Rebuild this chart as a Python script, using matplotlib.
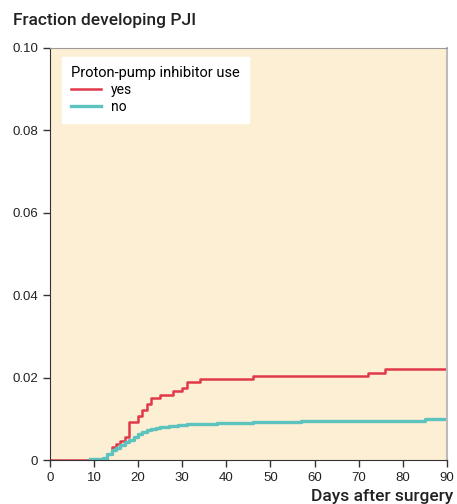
import matplotlib
matplotlib.use('Agg')
import matplotlib.pyplot as plt

plt.rcParams['font.family'] = ['Liberation Sans', 'DejaVu Sans']

# step points (day, cumulative fraction)
ppi_days = [0, 13, 14, 15, 16, 17, 18, 20, 21, 22, 23, 25, 28, 30, 31, 34, 46, 72, 76, 90]
ppi_frac = [0, 0.0015, 0.0031, 0.0039, 0.0047, 0.0055, 0.0092, 0.0107, 0.0122, 0.0137,
            0.0151, 0.0159, 0.0167, 0.0176, 0.0190, 0.0197, 0.0204, 0.0212, 0.0220, 0.0220]

no_days = [9, 12, 13, 14, 15, 16, 17, 18, 19, 20, 21, 22, 23, 24, 25, 27, 29, 31, 35, 38,
           44, 46, 57, 85, 90]
no_frac = [0.0003, 0.0005, 0.0015, 0.0025, 0.0030, 0.0037, 0.0045, 0.0050, 0.0057, 0.0063,
           0.0068, 0.0072, 0.0075, 0.0078, 0.0080, 0.0083, 0.0085, 0.0087, 0.0088, 0.0089,
           0.0090, 0.0093, 0.0096, 0.0099, 0.0099]

x_ticks = [0, 10, 20, 30, 40, 50, 60, 70, 80, 90]
y_ticks = [0, 0.02, 0.04, 0.06, 0.08, 0.10]
y_labels = ['0', '0.02', '0.04', '0.06', '0.08', '0.10']

fig = plt.figure(figsize=(4.57, 5.04), dpi=100)
ax = fig.add_axes([0.109, 0.087, 0.869, 0.818])
ax.set_facecolor('#fdefd3')

ax.step(ppi_days, ppi_frac, where='post', color='#e0394a', lw=1.8, label='yes')
ax.step(no_days, no_frac, where='post', color='#5cc3be', lw=2.4, label='no')

ax.set_xlim(0, 90)
ax.set_ylim(0, 0.10)
ax.set_xticks(x_ticks)
ax.set_yticks(y_ticks)
ax.set_yticklabels(y_labels)
ax.tick_params(labelsize=9.5, length=5, width=1, color='#333333', labelcolor='#222222',
               direction='out')

for s in ['left', 'bottom']:
    ax.spines[s].set_color('#333333')
ax.spines['top'].set_color('#999999')
ax.spines['right'].set_color('#bbbbbb')
ax.spines['right'].set_linewidth(1.5)

leg = ax.legend(title='Proton-pump inhibitor use', loc='upper left',
                bbox_to_anchor=(0.03, 0.978), borderaxespad=0, fontsize=10,
                title_fontsize=10.5, frameon=True, fancybox=False, handlelength=2.2,
                labelspacing=0.2, borderpad=0.65, handletextpad=0.7)
leg.get_frame().set_facecolor('white')
leg.get_frame().set_edgecolor('white')
leg.get_frame().set_alpha(1)
leg._legend_box.align = 'left'
leg.get_title().set_fontfamily(['Roboto', 'DejaVu Sans'])
for t in leg.get_texts():
    t.set_fontfamily(['Roboto', 'DejaVu Sans'])

fig.text(0.029, 0.950, 'Fraction developing PJI', fontsize=12.5, color='#222222',
         family=['Roboto', 'DejaVu Sans'], fontweight='medium')
fig.text(0.992, 0.006, 'Days after surgery', fontsize=12.5, color='#222222', ha='right',
         family=['Roboto', 'DejaVu Sans'], fontweight='medium')

fig.savefig('out.png', dpi=100)
